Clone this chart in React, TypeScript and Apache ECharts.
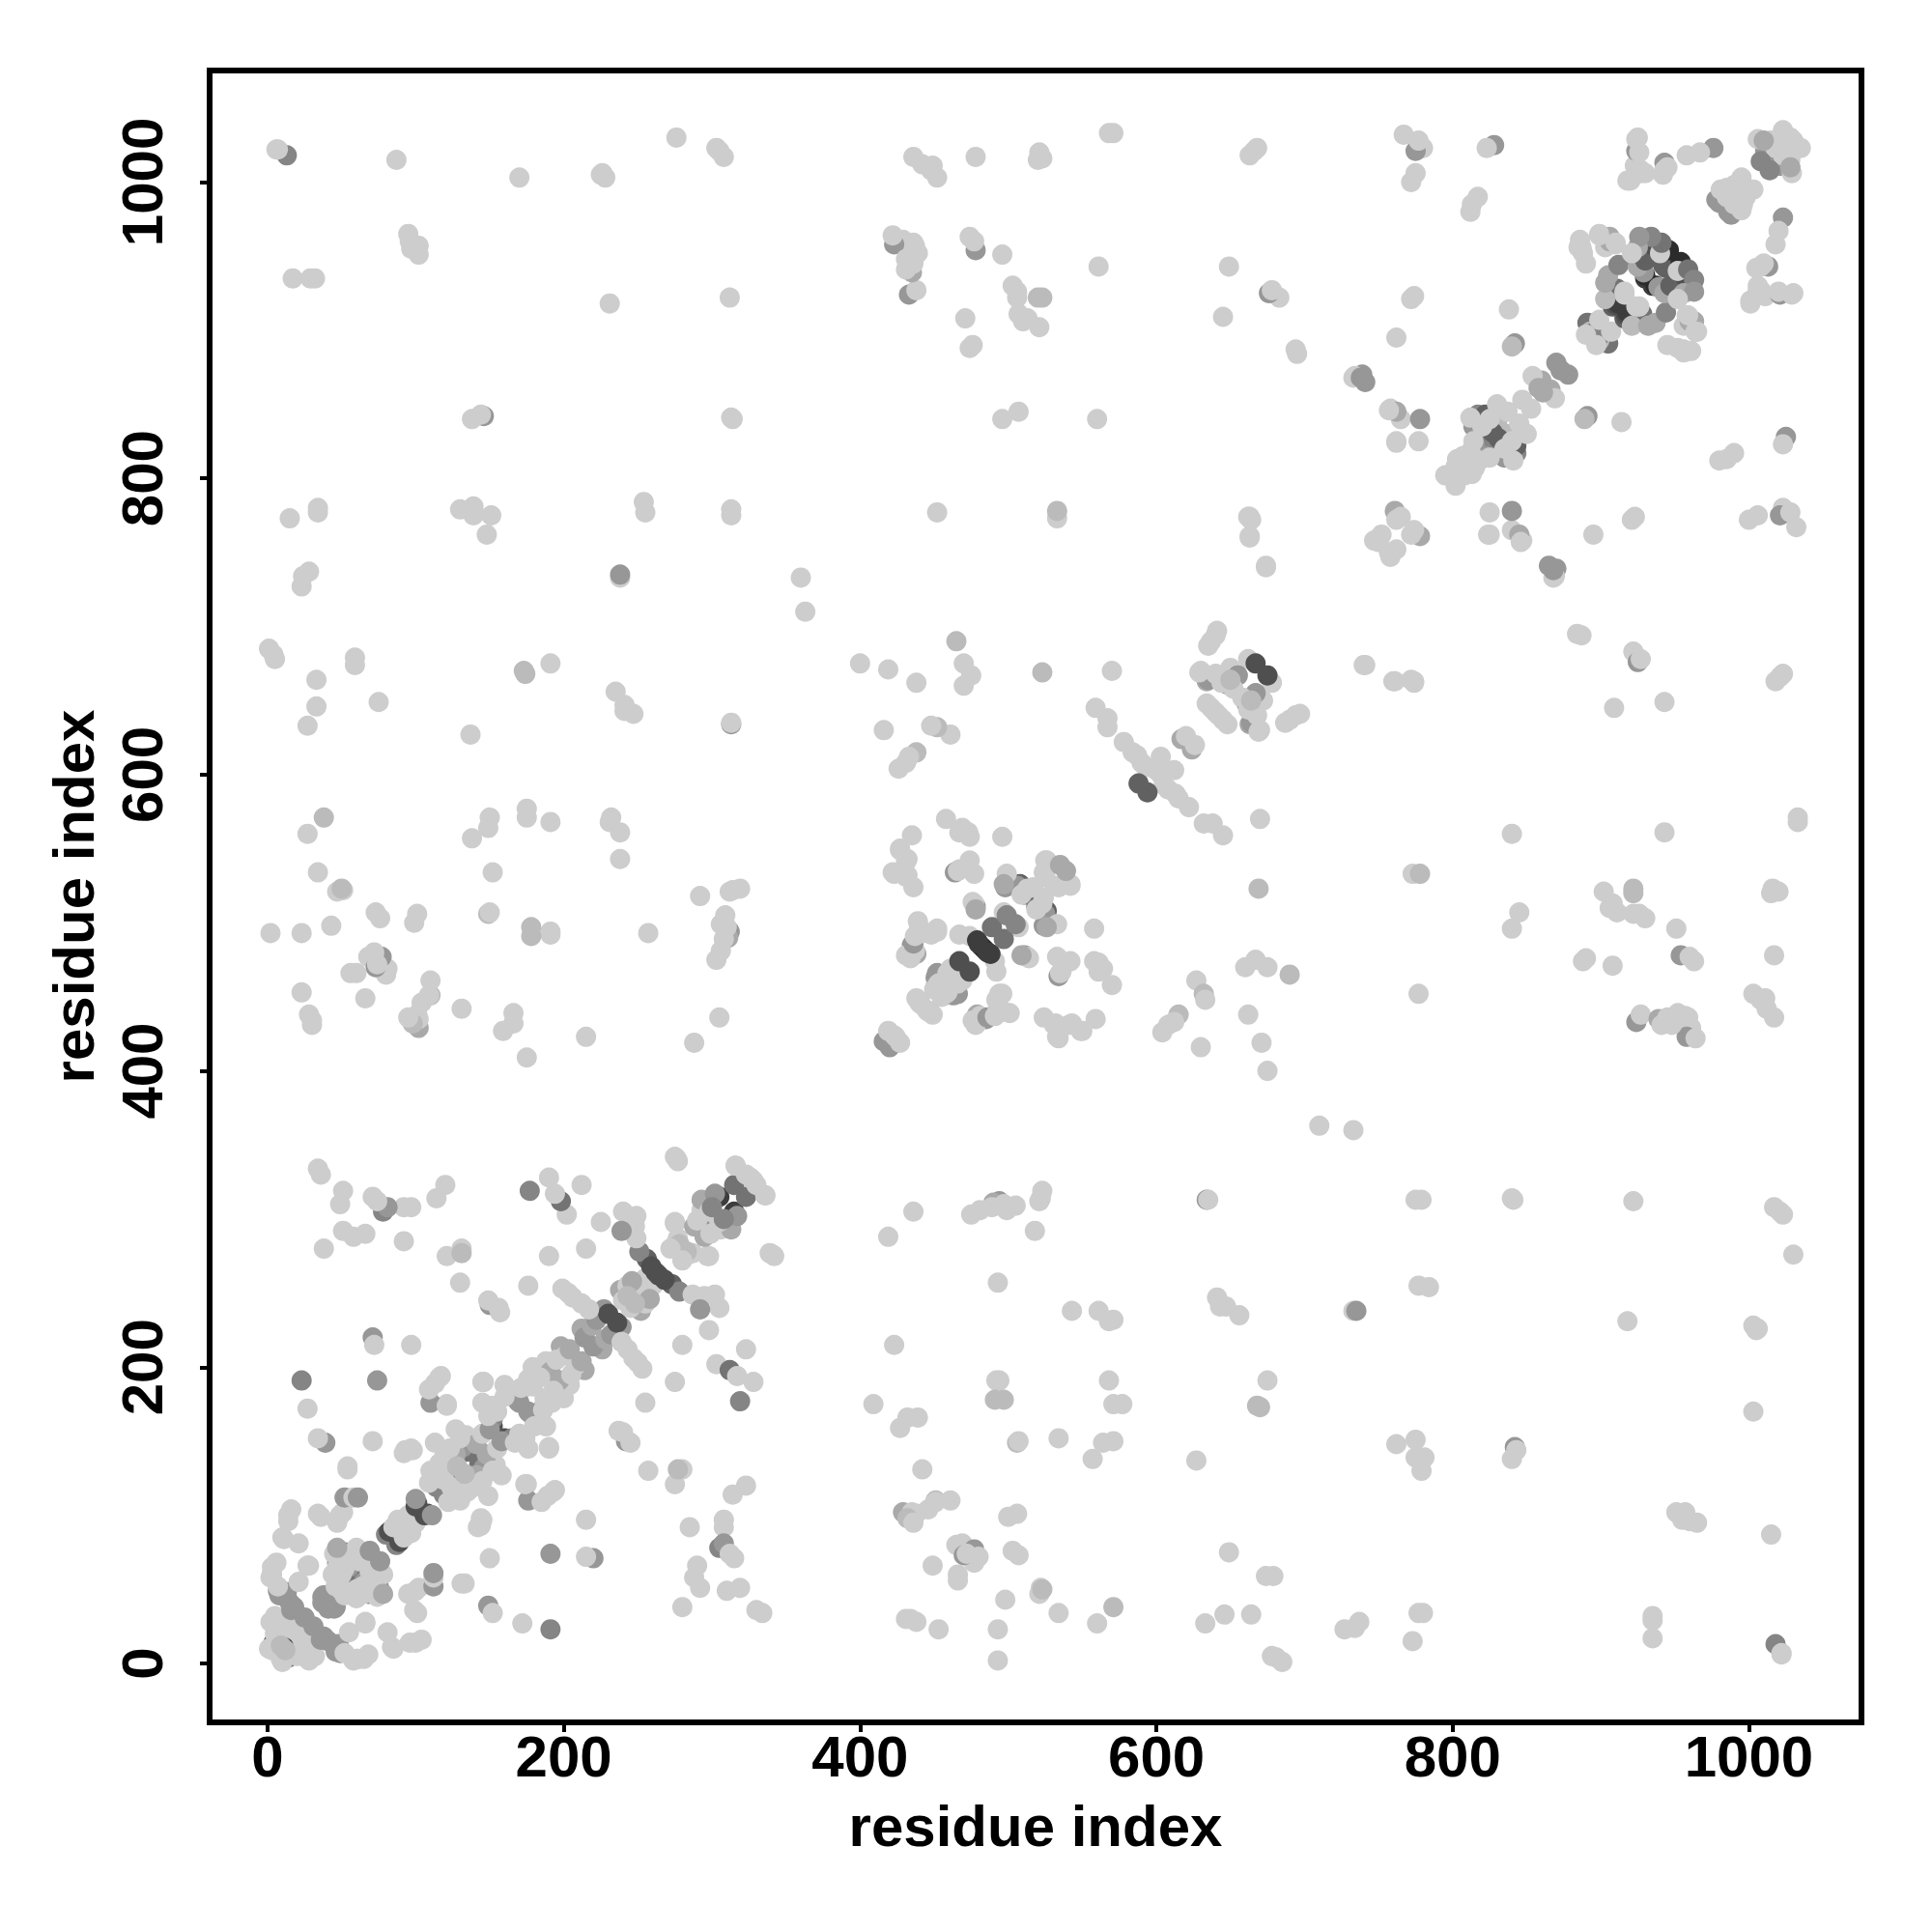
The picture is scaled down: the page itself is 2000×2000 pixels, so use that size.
import React, { useEffect, useRef } from "react";
import * as echarts from "echarts";

// Contacts: [residue i, residue j, strength 0 (palest) .. 9 (darkest)], i > j.
// A contact map is symmetric, so each contact is plotted at (i, j) and at (j, i).
const cornerContacts = [
  [14,4,5],[11,3,4],[12,7,6],[20,9,6],[17,15,7],[9,3,0],[13,6,0],[10,1,0],[20,5,0],[22,19,0],[24,14,0],[28,2,0],[30,10,0],[32,5,0],[28,8,0],[12,9,1],
  [49,7,3],[48,13,3],[36,16,3],[31,25,3],[41,15,3],[38,18,3],[46,8,3],[48,10,3],[52,7,0],[58,2,0],[60,3,0],[65,3,0],[68,6,0],[61,3,0],
  [55,21,0],[66,27,0],[66,28,0],[81,21,0],[84,11,0],[85,10,0],[100,14,0],[104,16,0],[96,14,0],[101,34,0],[99,36,0],[100,49,0],[95,47,0],[102,51,0],
  [112,52,3],[112,58,0],[112,61,3],[131,54,0],[133,54,0],[149,39,3],[152,34,0],[172,27,0],[191,23,4],[150,71,0],[191,74,3],[144,93,0],[144,98,0],[145,97,0],[142,92,0],
  [215,97,0],[220,71,3],[215,72,0],[45,37,3],[46,38,3],[41,37,3],
  [60,47,7],[67,50,7],[72,48,6],[68,47,4],[58,53,4],[75,52,4],[62,60,5],[65,55,3],[74,45,0],[65,47,0],[60,50,0],[55,48,0],[70,50,0],[72,55,0],[78,60,0],[69,62,0],[60,44,0],[52,46,0],[64,52,0],[71,58,0],[76,69,3],[78,47,2],
  [87,80,4],[89,82,7],[92,85,0],[97,88,0],[95,90,0],[100,95,0],[106,100,7],[108,101,7],[111,100,3],
];

const firstBandContacts = [
  [143,133,6],[127,118,6],[143,135,5],[130,121,3],[119,114,4],[146,132,3],[150,140,2],[137,123,0],[141,127,2],[139,119,0],[124,119,0],[128,114,0],[158,127,0],[154,134,0],[149,113,0],[130,110,0],[122,109,0],[135,116,0],[145,123,0],[125,112,0],[133,128,1],[148,141,2],[155,145,0],[152,130,0],
  [160,152,7],[165,152,4],[158,150,3],[167,149,0],[176,145,0],[190,146,0],[174,152,0],[188,160,0],[186,173,0],[177,169,3],[176,170,3],[186,171,0],[180,160,0],[190,145,0],[170,155,0],[175,121,0],[176,110,3],[174,121,0],[185,109,0],[193,116,0],[189,113,0],[194,117,0],
  [200,179,0],[204,188,0],[197,191,2],[187,179,0],[193,184,0],[192,176,0],[214,198,2],[208,201,0],[205,195,0],[212,204,2],[226,212,2],[220,214,3],[228,219,2],[232,222,3],[239,227,3],[236,230,7],[250,203,0],[243,212,0],[239,217,0],[247,206,0],[253,199,0],
  [252,238,2],[245,240,0],[250,245,0],[257,250,0],[260,255,0],[255,243,0],[262,258,0],[258,246,2],[248,243,1],
  [264,262,7],[273,256,6],[278,251,4],[268,259,7],[287,249,0],[295,248,0],[302,249,0],[305,240,0],[292,239,3],[298,225,0],[280,215,0],[275,190,0],[255,176,0],[323,212,0],[303,202,0],[312,198,5],[317,194,0],[328,190,0],[319,177,4],[242,150,3],[237,157,0],[245,149,0],[240,156,0],[341,276,0],[339,277,0],
  [284,276,0],[297,275,0],[298,275,0],[287,277,0],[283,278,1],[280,272,0],
  [295,288,2],[302,295,3],[306,293,0],[313,293,2],[310,298,2],[315,305,8],[317,302,3],[305,298,0],[299,290,0],[308,300,4],
  [323,315,5],[336,316,0],[330,323,0],[326,328,0],
  [257,130,0],[275,121,0],[280,131,0],[277,131,1],[285,92,0],[308,92,0],[308,97,0],[305,78,4],[308,81,3],[312,74,0],[315,71,0],[290,66,0],[288,58,0],[292,51,0],[280,38,0],[310,49,0],[319,51,0],[330,36,0],[334,34,0],[314,114,0],[323,120,0],
];

const middleRowContacts = [
  [336,316,0],[436,305,0],[419,288,0],[342,275,0],[494,312,3],[490,311,2],[497,310,0],[505,309,0],[475,303,0],[481,306,0],[489,308,0],[499,306,0],[522,314,0],[523,319,0],[521,312,0],[518,292,0],[634,313,3],[635,313,0],
  [493,257,0],[543,238,0],[561,238,0],[571,232,0],[568,231,0],[641,247,0],[643,241,0],[647,241,0],[656,235,0],[423,215,0],[492,191,0],[494,191,0],[491,178,1],[497,178,1],[568,191,0],[571,175,0],[577,175,0],[675,191,0],[668,174,1],[670,173,1],
  [409,175,0],[432,166,0],[439,166,0],[427,159,0],[506,149,1],[507,150,0],[534,152,0],[564,149,0],[571,150,0],[557,138,0],[627,137,0],[442,131,0],
  [429,102,2],[435,102,0],[438,101,0],[432,98,1],[436,95,0],[446,104,0],[451,110,1],[451,109,0],[461,110,0],[500,99,0],[506,101,0],[465,80,0],[469,81,0],[477,77,3],[480,72,0],[477,68,0],[470,73,3],[472,74,0],[503,76,0],[507,73,0],[449,66,0],[466,60,0],[466,56,0],
  [649,75,0],[674,59,0],[679,59,0],[522,51,0],[521,47,0],[523,50,1],[498,43,0],[534,34,0],[571,38,1],[560,27,0],[493,23,0],[633,27,0],[646,33,0],[664,33,0],[431,30,0],[438,28,0],[434,30,0],[453,23,0],[493,2,0],[678,5,0],[685,1,0],[681,4,0],
  [775,313,0],[779,313,0],[841,313,0],[840,314,0],[922,312,0],[1017,308,0],[1023,303,0],[1021,305,0],[1030,276,0],[777,255,0],[784,254,0],[733,238,0],[735,238,3],[918,231,0],[1003,228,0],[1005,225,0],[1006,226,0],[1003,170,0],
  [762,148,0],[775,151,0],[775,139,0],[781,139,0],[779,130,0],[842,146,3],[843,144,0],[840,138,0],[951,102,0],[957,102,0],[955,97,0],[960,96,0],[965,95,0],[1015,87,0],[727,23,0],[734,24,0],[737,28,0],[777,34,0],[780,34,0],[773,15,0],[935,32,0],[935,29,0],[935,17,0],[1018,13,4],[1022,6,0],[1022,7,0],
];

const centralContacts = [
  [741,674,0],[761,663,0],[772,664,0],[774,662,0],[887,694,0],[884,695,0],[922,683,0],[925,676,3],[927,678,0],[909,645,0],[943,649,0],[1018,663,0],[1023,668,0],[1021,666,0],[840,560,0],[943,561,0],[1033,571,0],[1033,568,0],[773,533,0],[778,533,1],
  [902,521,0],[908,513,0],[911,507,0],[906,510,0],[922,523,1],[922,520,1],[922,506,0],[930,503,0],[926,506,0],[1016,523,0],[1020,521,0],[1015,520,0],[845,507,0],[840,496,0],[951,496,0],[1017,478,0],[888,474,0],[890,476,0],[908,471,0],[954,478,3],[960,477,0],[963,474,0],[777,452,0],
  [1003,452,0],[1011,449,0],[1012,442,0],[1017,436,0],[1008,448,0],[924,433,3],[927,438,0],[939,435,2],[945,436,0],[952,439,0],[959,436,0],[957,437,0],[961,429,0],[958,423,3],[964,422,0],[941,431,0],[948,431,0],[710,363,0],[733,360,0],
  [612,603,0],[605,593,0],[613,587,0],[622,578,0],[632,567,0],[638,567,0],[645,559,0],[608,590,0],[615,584,0],[603,600,0],[594,588,6],
  [670,570,0],[669,523,1],[690,465,1],[675,470,0],[667,475,0],[660,470,0],[627,461,0],[632,452,1],[633,448,0],[662,438,0],[671,419,0],[675,400,0],[630,416,0],[615,438,1],[608,431,0],[604,426,0],[612,433,0],
  [558,496,0],[561,473,0],[564,469,0],[570,458,0],[561,467,0],[558,474,0],[559,435,0],[549,427,0],[541,431,0],[533,423,0],[524,436,0],[531,431,0],[534,422,0],[532,432,0],[543,432,0],[550,427,0],[533,477,0],[542,474,0],[536,467,0],[534,464,3],[535,466,0],[511,478,3],[513,477,0],[514,476,0],[509,478,2],
  [420,416,3],[427,419,0],[424,423,0],[447,440,3],[449,438,0],[446,440,0],[445,441,0],[463,451,3],[466,452,3],[458,452,2],[457,451,2],[466,459,0],[469,461,0],[459,453,0],[455,450,0],[479,438,2],[485,435,3],[478,431,0],[481,437,0],[476,434,0],[486,436,3],[491,437,0],[493,442,0],[496,452,0],[501,439,0],[497,440,0],[494,452,0],[492,448,0],[491,474,0],[492,467,0],
  [526,508,6],[511,519,5],[525,506,3],[524,498,3],[524,517,0],[519,509,0],[533,499,0],[526,497,2],[513,523,0],[531,525,0],[542,525,0],[524,534,0],[526,542,0],[539,535,2],[507,497,0],
  [474,467,7],[488,479,8],[484,482,9],[486,480,8],[497,489,5],[505,499,4],
];

const upperBlockContacts = [
  [648,634,0],[645,637,0],[642,640,0],[624,617,2],[626,620,0],[697,641,0],[690,637,0],[694,640,0],[687,635,0],
  [661,648,4],[663,634,2],[664,635,3],[662,644,0],[670,630,0],[669,629,0],[678,662,0],[672,650,0],[667,655,3],[658,652,0],[668,640,0],[664,650,1],[675,667,7],
  [663,774,0],[663,760,0],[674,740,0],
  [843,817,4],[843,822,6],[828,823,4],[838,830,1],[835,814,3],[822,815,3],[831,827,6],[845,837,0],[853,847,0],[835,820,0],[825,814,0],[815,807,0],[802,795,0],[808,802,0],[818,812,0],[813,803,0],[841,812,0],[850,830,0],[840,825,0],
  [778,761,2],[774,765,0],[772,762,0],[758,747,0],[762,752,0],[757,750,0],[847,758,0],[840,765,0],[840,778,3],[825,762,0],[825,777,0],[824,762,0],[845,762,2],[846,757,0],[895,762,0],[923,774,0],[921,772,0],[865,741,3],[870,739,3],[869,734,0],[868,733,0],[868,738,3],
  [878,870,3],[873,873,3],[866,860,2],[869,854,0],[861,858,2],[891,842,3],[889,840,1],[914,838,0],[980,812,0],[985,813,0],[990,817,0],[1025,828,3],[1023,823,0],
  [1023,780,0],[1021,775,3],[1028,777,0],[1032,767,0],[1006,775,0],[1000,772,0],
  [905,891,5],[899,893,1],[899,896,4],[907,899,0],[897,890,0],
  [916,908,6],[917,910,7],[919,916,7],[918,912,8],[920,910,8],[928,911,5],[926,916,0],[924,916,0],[921,903,1],[932,903,2],[937,905,2],[944,912,4],
  [935,930,8],[937,930,9],[939,929,3],[943,925,2],[947,930,6],[957,936,7],[951,944,8],[948,942,7],[944,942,6],[954,946,9],[952,940,0],[959,941,5],[963,934,4],[956,925,2],[963,926,3],[952,921,0],
  [963,906,2],[965,899,0],[958,910,0],[956,903,0],[960,906,2],[959,910,0],[945,890,0],[952,888,0],[956,887,0],[961,886,0],[956,885,0],[964,899,0],
  [1001,920,0],[1006,927,0],[1011,923,0],[1021,924,3],[1029,924,0],[1013,943,3],[1005,942,0],[1008,943,0],[1008,927,0],[1023,976,3],[1020,967,0],[1018,958,0],
  [1010,945,0],[1030,925,0],[1020,926,0],[1001,918,0],[1006,930,0],
  [986,980,3],[988,978,3],[995,981,0],[1003,995,0],[996,985,0],[1001,995,0],[993,990,0],[990,985,0],[998,990,0],
  [1021,1011,5],[1017,1012,7],[1020,1011,3],[1029,1006,0],[1033,1023,0],[1023,1018,0],[1028,1015,0],[1030,1028,0],[1035,1023,0],[1028,1010,2],[1014,1008,4],
];

const tickValues = [0, 200, 400, 600, 800, 1000];
const axisMin = { x: -39.1, y: -39.8 };
const axisMax = { x: 1076, y: 1075.3 };
const axisTitle = "residue index";

const contacts = [
  ...cornerContacts,
  ...firstBandContacts,
  ...middleRowContacts,
  ...centralContacts,
  ...upperBlockContacts,
];

const grey = (strength: number) => {
  const g = 205 - 18 * strength;
  return `rgb(${g},${g},${g})`;
};

const font = { fontFamily: "Liberation Sans", fontWeight: "bold" as const, color: "#000" };

export default function App() {
  const ref = useRef<HTMLDivElement>(null);
  useEffect(() => {
    const chart = echarts.init(ref.current, null, { renderer: "svg" });
    const axisBase = {
      type: "value" as const,
      nameLocation: "middle" as const,
      name: axisTitle,
      splitLine: { show: false },
      axisLine: { show: false, onZero: false },
      axisTick: { show: true, length: 10, inside: false, customValues: tickValues, lineStyle: { color: "#000", width: 4 } },
      nameTextStyle: { ...font, fontSize: 60 },
    };
    chart.setOption({
      animation: false,
      backgroundColor: "#fff",
      grid: { left: 217, right: 73, top: 73, bottom: 217, show: true, borderColor: "#000", borderWidth: 6, backgroundColor: "transparent", z: 5 },
      xAxis: {
        ...axisBase,
        min: axisMin.x,
        max: axisMax.x,
        nameGap: 77,
        axisLabel: { ...font, fontSize: 60, margin: 5, customValues: tickValues, formatter: (v: number) => String(v) },
      },
      yAxis: {
        ...axisBase,
        min: axisMin.y,
        max: axisMax.y,
        nameGap: 111,
        axisLabel: { ...font, fontSize: 60, margin: 40, rotate: 90, customValues: tickValues, formatter: (v: number) => String(v) },
      },
      series: [
        {
          type: "scatter",
          symbol: "circle",
          symbolSize: 21,
          clip: false,
          itemStyle: { opacity: 1, color: (p: any) => grey(p.value[2]) },
          data: contacts.flatMap(([i, j, s]) => [
            [j, i, s],
            [i, j, s],
          ]),
        },
      ],
    });
    return () => chart.dispose();
  }, []);
  return <div ref={ref} style={{ position: "absolute", left: 0, top: 0, width: 2000, height: 2000 }} />;
}
